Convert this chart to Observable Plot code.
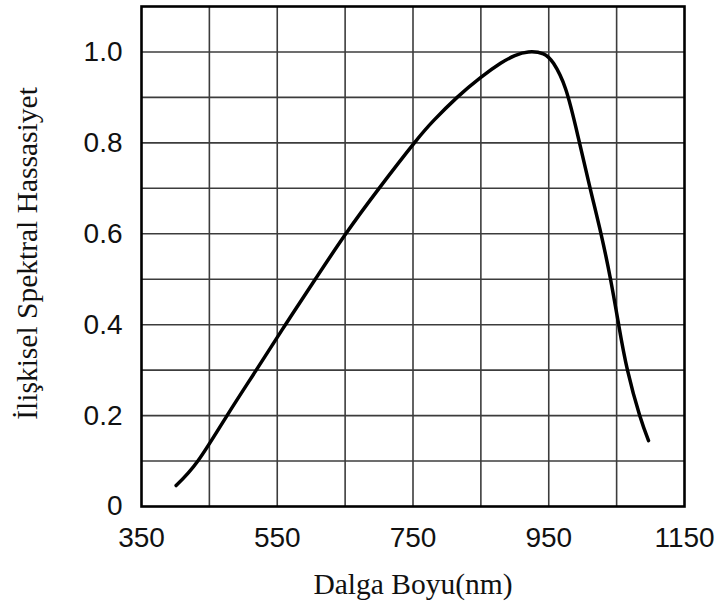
<!DOCTYPE html>
<html><head><meta charset="utf-8">
<script src="https://cdn.jsdelivr.net/npm/d3@7"></script>
<script src="https://cdn.jsdelivr.net/npm/@observablehq/plot@0.6"></script>
<style>body{margin:0;background:#fff}</style>
</head><body><div id="chart"></div>
<script>
const wavelength = [401, 433, 476, 519, 562, 606, 651, 700, 752, 781, 815, 849, 879, 900, 920, 942, 957, 975, 993, 1011, 1027, 1041, 1053, 1066, 1084, 1097];
const sensitivity = [0.046, 0.1, 0.2, 0.3, 0.4, 0.5, 0.6, 0.7, 0.8, 0.85, 0.9, 0.943, 0.975, 0.992, 1.0, 0.996, 0.975, 0.918, 0.815, 0.7, 0.6, 0.5, 0.4, 0.3, 0.2, 0.145];
const xTicks = [350, 550, 750, 950, 1150];
const yTicks = [0, 0.2, 0.4, 0.6, 0.8, 1.0];
const xGrid = [450, 550, 650, 750, 850, 950, 1050];
const yGrid = [0.1, 0.2, 0.3, 0.4, 0.5, 0.6, 0.7, 0.8, 0.9, 1.0];
const xTitle = "Dalga Boyu(nm)";
const yTitle = "İlişkisel Spektral Hassasiyet";

const data = wavelength.map((x, i) => ({x, y: sensitivity[i]}));

const chart = Plot.plot({
  width: 721, height: 605,
  marginLeft: 141, marginRight: 37, marginTop: 6, marginBottom: 99,
  style: {fontFamily: "Liberation Sans", color: "#111", background: "#fff"},
  x: {domain: [350, 1150], label: null},
  y: {domain: [0, 1.1], label: null},
  marks: [
    Plot.gridX(xGrid, {stroke: "#3c3c3c", strokeOpacity: 1, strokeWidth: 1.6}),
    Plot.gridY(yGrid, {stroke: "#3c3c3c", strokeOpacity: 1, strokeWidth: 1.6}),
    Plot.line(data, {x: "x", y: "y", curve: "natural", stroke: "black", strokeWidth: 3.5}),
    Plot.frame({stroke: "black", strokeWidth: 2.6}),
    Plot.axisX(xTicks, {tickSize: 0, tickPadding: 21, fontSize: 28, label: null, tickFormat: d => String(d)}),
    Plot.axisY(yTicks, {tickSize: 0, tickPadding: 19, fontSize: 28, label: null,
      tickFormat: d => d === 0 ? "0" : d.toFixed(1)}),
    Plot.text([xTitle], {text: d => d, frameAnchor: "bottom", lineAnchor: "middle", textAnchor: "middle", dy: 78, fontFamily: "Liberation Serif", fontSize: 29.5, fill: "#111"}),
    Plot.text([yTitle], {text: d => d, frameAnchor: "left", lineAnchor: "middle", textAnchor: "middle", rotate: -90, dx: -114, dy: -3, fontFamily: "Liberation Serif", fontSize: 29.5, fill: "#111"})
  ]
});
document.getElementById("chart").append(chart);
</script>
</body></html>
